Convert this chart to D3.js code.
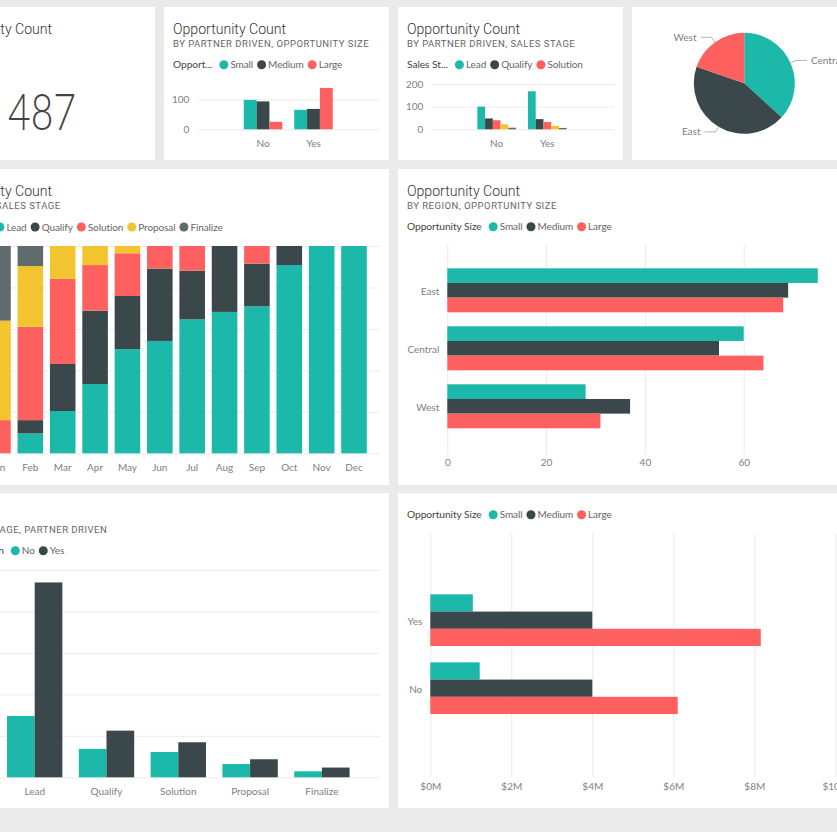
<!DOCTYPE html>
<html>
<head>
<meta charset="utf-8">
<script src="https://cdn.jsdelivr.net/npm/d3@7"></script>
<style>
    body { margin: 0; background: #eaeaea; overflow: hidden; }
    svg { display: block; }
    text { font-family: Lato, sans-serif; }
    .title { font-family: Roboto, sans-serif; font-size: 14.1px; font-weight: 300; fill: #333; }
    .subtitle { font-family: Roboto, sans-serif; font-size: 9.5px; letter-spacing: 0.5px; fill: #666; }
    .legend-title { font-size: 10.2px; font-weight: 400; letter-spacing: -0.05px; fill: #444; }
    .legend-label { font-size: 10px; letter-spacing: -0.1px; fill: #666; }
    .axis text { font-family: Lato, sans-serif; font-size: 10px; fill: #808080; }
    .axis .domain { display: none; }
    .axis line { stroke: #ececec; }
    .pie-label { font-size: 10px; fill: #808080; }
    .big-number { font-family: Lato, sans-serif; font-size: 51px; font-weight: 300; fill: #444; }
</style>
</head>
<body>
<div id="dashboard"></div>
<script>
    const COLORS = {
        teal: '#1cb8a9',
        dark: '#3a474b',
        red: '#fd605f',
        yellow: '#f2c530',
        gray: '#5f6b6d'
    };

    const totalCount = 487;

    const sizes = ['Small', 'Medium', 'Large'];
    const partners = ['No', 'Yes'];
    const partnersReversed = ['Yes', 'No'];
    const stages = ['Lead', 'Qualify', 'Solution', 'Proposal', 'Finalize'];
    const regions = ['East', 'Central', 'West'];
    const months = ['Jan', 'Feb', 'Mar', 'Apr', 'May', 'Jun', 'Jul', 'Aug', 'Sep', 'Oct', 'Nov', 'Dec'];

    // count by partner driven (No, Yes)
    const partnerSmall = [98, 65];
    const partnerMedium = [93, 68];
    const partnerLarge = [25, 138];

    // count by partner driven (No, Yes), per stage
    const partnerLead = [100, 168];
    const partnerQualify = [48, 45];
    const partnerSolution = [40, 32];
    const partnerProposal = [22, 15];
    const partnerFinalize = [7, 6];

    // pie
    const pieRegions = ['Central', 'East', 'West'];
    const pieCounts = [179, 212, 96];

    // stage share per month, percent
    const monthLead = [0, 9.6, 20.4, 33.4, 50.2, 54.2, 64.6, 68.2, 70.9, 90.8, 100, 100];
    const monthQualify = [0, 6.4, 22.7, 35.4, 25.7, 34.9, 23.5, 31.8, 20.6, 9.2, 0, 0];
    const monthSolution = [16, 45, 41, 22, 20.6, 10.9, 11.9, 0, 8.5, 0, 0, 0];
    const monthProposal = [48, 29.3, 15.9, 9.2, 3.5, 0, 0, 0, 0, 0, 0, 0];
    const monthFinalize = [36, 9.7, 0, 0, 0, 0, 0, 0, 0, 0, 0, 0];

    // count by region
    const regionSmall = [75, 60, 28];
    const regionMedium = [69, 55, 37];
    const regionLarge = [68, 64, 31];

    // amount in $M by stage (axis labels are cut off in the picture)
    const stageNo = [2.96, 1.37, 1.22, 0.64, 0.29];
    const stageYes = [9.4, 2.25, 1.69, 0.87, 0.47];

    // amount in $M by partner driven (Yes, No)
    const amountSmall = [1.05, 1.22];
    const amountMedium = [4, 4];
    const amountLarge = [8.16, 6.11];

    const svg = d3.select('#dashboard').append('svg')
        .attr('width', 837)
        .attr('height', 832);

    function addTile(x, y, w, h) {
        svg.append('rect')
            .attr('x', x).attr('y', y)
            .attr('width', w).attr('height', h)
            .attr('fill', '#fff');
    }

    function addHeader(x, y, title, subtitle) {
        if (title) {
            svg.append('text').attr('class', 'title').attr('x', x).attr('y', y).text(title);
        }
        if (subtitle) {
            svg.append('text').attr('class', 'subtitle').attr('x', x).attr('y', y + 13).text(subtitle);
        }
    }

    // Legend is laid out by measuring each label
    function addLegend(x, y, title, labels, colors) {
        const g = svg.append('g').attr('transform', `translate(${x},${y})`);
        const head = g.append('text').attr('class', 'legend-title').attr('dy', '0.35em').text(title);
        let cursor = head.node().getComputedTextLength() + 7;
        labels.forEach((label, i) => {
            g.append('circle').attr('cx', cursor + 4.5).attr('r', 4.5).attr('fill', colors[i]);
            const t = g.append('text').attr('class', 'legend-label')
                .attr('x', cursor + 11)
                .attr('dy', '0.35em')
                .text(label);
            cursor += 11 + t.node().getComputedTextLength() + 4;
        });
    }

    function columnChart(o) {
        const y = d3.scaleLinear().domain(o.yDomain).range([o.bottom, o.top]);
        const x0 = d3.scaleBand().domain(o.categories).range(o.xRange).paddingInner(o.padding).paddingOuter(o.padding / 2);
        const x1 = d3.scaleBand().domain(d3.range(o.series.length)).range([0, x0.bandwidth()]);

        svg.append('g')
            .attr('class', 'axis')
            .attr('transform', `translate(${o.gridRange[0]},0)`)
            .call(d3.axisLeft(y).tickValues(o.yTicks).tickFormat(o.format || d3.format('d'))
                .tickSize(-(o.gridRange[1] - o.gridRange[0])).tickPadding(o.yPadding));

        o.series.forEach((s, i) => {
            svg.append('g').attr('fill', s.color)
                .selectAll('rect')
                .data(s.values)
                .enter()
                .append('rect')
                .attr('x', (d, j) => x0(o.categories[j]) + x1(i))
                .attr('y', d => y(d))
                .attr('width', x1.bandwidth())
                .attr('height', d => y(0) - y(d));
        });

        svg.append('g')
            .attr('class', 'axis')
            .attr('transform', `translate(0,${o.bottom})`)
            .call(d3.axisBottom(x0).tickSize(0).tickPadding(o.xPadding));
    }

    function barChart(o) {
        const x = d3.scaleLinear().domain(o.xDomain).range(o.xRange);
        const y0 = d3.scaleBand().domain(o.categories).range(o.yRange).paddingInner(o.padding).paddingOuter(o.padding / 2);
        const y1 = d3.scaleBand().domain(d3.range(o.series.length)).range([0, y0.bandwidth()]);

        svg.append('g')
            .attr('class', 'axis')
            .attr('transform', `translate(0,${o.gridRange[1]})`)
            .call(d3.axisBottom(x).tickValues(o.xTicks).tickFormat(o.format || d3.format('d'))
                .tickSize(-(o.gridRange[1] - o.gridRange[0])).tickPadding(o.xPadding));

        o.series.forEach((s, i) => {
            svg.append('g').attr('fill', s.color)
                .selectAll('rect')
                .data(s.values)
                .enter()
                .append('rect')
                .attr('x', x(0))
                .attr('y', (d, j) => y0(o.categories[j]) + y1(i))
                .attr('width', d => x(d) - x(0))
                .attr('height', y1.bandwidth());
        });

        const yAxis = svg.append('g')
            .attr('class', 'axis')
            .attr('transform', `translate(${x(0)},0)`)
            .call(d3.axisLeft(y0).tickSize(0).tickPadding(8));
        yAxis.selectAll('text').attr('y', 1.5);
    }

    function stackedChart() {
        const rows = months.map((m, i) => ({
            month: m,
            Lead: monthLead[i],
            Qualify: monthQualify[i],
            Solution: monthSolution[i],
            Proposal: monthProposal[i],
            Finalize: monthFinalize[i]
        }));
        const series = d3.stack().keys(stages).offset(d3.stackOffsetExpand)(rows);
        const color = d3.scaleOrdinal().domain(stages)
            .range([COLORS.teal, COLORS.dark, COLORS.red, COLORS.yellow, COLORS.gray]);

        const x = d3.scaleBand().domain(months).range([-18.2, 370.2]).paddingInner(0.21).paddingOuter(0.105);
        const y = d3.scaleLinear().domain([0, 1]).range([453.3, 246]);

        svg.append('g')
            .attr('class', 'axis')
            .attr('transform', 'translate(-30,0)')
            .call(d3.axisLeft(y).ticks(5).tickFormat(d3.format('.0%')).tickSize(-410).tickPadding(6));

        svg.selectAll('.month-series')
            .data(series)
            .enter()
            .append('g')
            .attr('class', 'month-series')
            .attr('fill', d => color(d.key))
            .selectAll('rect')
            .data(d => d)
            .enter()
            .append('rect')
            .attr('x', d => x(d.data.month))
            .attr('y', d => y(d[1]))
            .attr('width', x.bandwidth())
            .attr('height', d => y(d[0]) - y(d[1]));

        svg.append('g')
            .attr('class', 'axis')
            .attr('transform', 'translate(0,453.3)')
            .call(d3.axisBottom(x).tickSize(0).tickPadding(11));
    }

    function pieChart() {
        const r = 50.5;
        const colors = [COLORS.teal, COLORS.dark, COLORS.red];
        const g = svg.append('g').attr('transform', 'translate(744.3,83.3)');
        const arcs = d3.pie().sort(null)(pieCounts);
        const arc = d3.arc().innerRadius(0).outerRadius(r);
        const edge = d3.arc().innerRadius(r).outerRadius(r);
        const elbow = d3.arc().innerRadius(r + 6).outerRadius(r + 6);

        g.selectAll('path.slice')
            .data(arcs)
            .enter()
            .append('path')
            .attr('class', 'slice')
            .attr('d', arc)
            .attr('fill', (d, i) => colors[i]);

        arcs.forEach((d, i) => {
            const p0 = edge.centroid(d);
            const p1 = elbow.centroid(d);
            const side = p1[0] < 0 ? -1 : 1;
            const p2 = [p1[0] + side * 11, p1[1]];
            g.append('path')
                .attr('d', d3.line()([p0, p1, p2]))
                .attr('fill', 'none')
                .attr('stroke', '#b5b5b5');
            g.append('text')
                .attr('class', 'pie-label')
                .attr('x', p2[0] + side * 4)
                .attr('y', p2[1])
                .attr('dy', '0.35em')
                .attr('text-anchor', side < 0 ? 'end' : 'start')
                .text(pieRegions[i]);
        });
    }

    // Tiles
    addTile(-70, 7, 225, 153);
    addTile(164, 7, 225, 153);
    addTile(398, 7, 225, 153);
    addTile(632, 7, 225, 153);
    addTile(-70, 169, 459, 316);
    addTile(398, 169, 459, 316);
    addTile(-70, 493, 459, 315);
    addTile(398, 493, 459, 315);

    const sizeColors = [COLORS.teal, COLORS.dark, COLORS.red];
    const stageColors = [COLORS.teal, COLORS.dark, COLORS.red, COLORS.yellow, COLORS.gray];

    // Card
    addHeader(-61, 34, 'Opportunity Count');
    svg.append('text')
        .attr('class', 'big-number')
        .attr('x', 8)
        .attr('y', 130)
        .attr('textLength', 68)
        .attr('lengthAdjust', 'spacingAndGlyphs')
        .text(totalCount);

    // Count by partner driven, size
    addHeader(173, 34, 'Opportunity Count', 'BY PARTNER DRIVEN, OPPORTUNITY SIZE');
    addLegend(173, 64.7, 'Opport...', sizes, sizeColors);
    columnChart({
        categories: partners,
        series: [
            { values: partnerSmall, color: COLORS.teal },
            { values: partnerMedium, color: COLORS.dark },
            { values: partnerLarge, color: COLORS.red }
        ],
        xRange: [237.75, 338.75],
        padding: 0.238,
        yDomain: [0, 100],
        yTicks: [0, 100],
        bottom: 129.3,
        top: 99.3,
        gridRange: [198.3, 380],
        yPadding: 9,
        xPadding: 11
    });

    // Count by partner driven, stage
    addHeader(407, 34, 'Opportunity Count', 'BY PARTNER DRIVEN, SALES STAGE');
    addLegend(407, 64.7, 'Sales St...', stages.slice(0, 3), stageColors);
    columnChart({
        categories: partners,
        series: [
            { values: partnerLead, color: COLORS.teal },
            { values: partnerQualify, color: COLORS.dark },
            { values: partnerSolution, color: COLORS.red },
            { values: partnerProposal, color: COLORS.yellow },
            { values: partnerFinalize, color: COLORS.gray }
        ],
        xRange: [471.4, 572.6],
        padding: 0.235,
        yDomain: [0, 200],
        yTicks: [0, 100, 200],
        bottom: 129.3,
        top: 84,
        gridRange: [432.3, 614.3],
        yPadding: 9,
        xPadding: 11
    });

    pieChart();

    // Stacked months
    addHeader(-61, 196, 'Opportunity Count', 'BY MONTH, SALES STAGE');
    addLegend(-61, 227, 'Sales Stage', stages, stageColors);
    stackedChart();

    // Count by region
    addHeader(407, 196, 'Opportunity Count', 'BY REGION, OPPORTUNITY SIZE');
    addLegend(407, 226.7, 'Opportunity Size', sizes, sizeColors);
    barChart({
        categories: regions,
        series: [
            { values: regionSmall, color: COLORS.teal },
            { values: regionMedium, color: COLORS.dark },
            { values: regionLarge, color: COLORS.red }
        ],
        xDomain: [0, 60],
        xRange: [447.3, 743.7],
        xTicks: [0, 20, 40, 60],
        yRange: [261.3, 435.3],
        padding: 0.241,
        gridRange: [245, 455],
        xPadding: 4
    });

    // Amount by stage
    addHeader(-61, 520, '', 'BY SALES STAGE, PARTNER DRIVEN');
    addLegend(-61, 550.7, 'Partner Driven', partners, [COLORS.teal, COLORS.dark]);
    columnChart({
        categories: stages,
        series: [
            { values: stageNo, color: COLORS.teal },
            { values: stageYes, color: COLORS.dark }
        ],
        xRange: [-1.2, 357.8],
        padding: 0.229,
        yDomain: [0, 10],
        yTicks: [0, 2, 4, 6, 8, 10],
        format: d => `$${d}M`,
        bottom: 777.3,
        top: 570,
        gridRange: [-30, 380],
        yPadding: 6,
        xPadding: 11
    });

    // Amount by partner driven
    addLegend(407, 514.7, 'Opportunity Size', sizes, sizeColors);
    barChart({
        categories: partnersReversed,
        series: [
            { values: amountSmall, color: COLORS.teal },
            { values: amountMedium, color: COLORS.dark },
            { values: amountLarge, color: COLORS.red }
        ],
        xDomain: [0, 10],
        xRange: [430.3, 835.3],
        xTicks: [0, 2, 4, 6, 8, 10],
        format: d => `$${d}M`,
        yRange: [586.2, 722.2],
        padding: 0.24,
        gridRange: [533.3, 777],
        xPadding: 6
    });
</script>
</body>
</html>
